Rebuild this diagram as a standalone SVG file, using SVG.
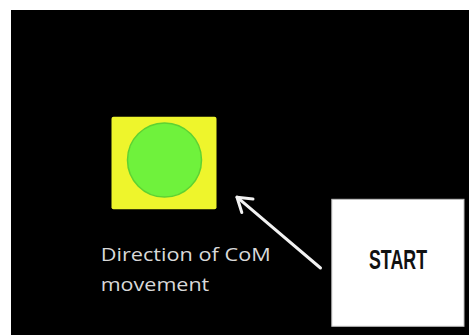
<svg xmlns="http://www.w3.org/2000/svg" width="469" height="335" viewBox="0 0 469 335">
  <defs>
    <style>
      .label { font-family: "Open Sans", "Liberation Sans", sans-serif; font-size: 18.5px; fill: #d9d9d9; }
      .start { font-family: "Liberation Sans", Arial, sans-serif; font-weight: bold; font-size: 28px; fill: #111111; }
      .conn { stroke: #f2f2f2; stroke-width: 3; fill: none; stroke-linecap: round; stroke-linejoin: round; }
    </style>
  </defs>
  <rect x="0" y="0" width="469" height="335" fill="#ffffff"/>
  <rect x="11" y="10" width="458" height="325" fill="#000000"/>

  <g id="target">
    <rect x="111.5" y="116.8" width="105" height="92.5" rx="2" fill="#eef52c"/>
    <circle cx="164.5" cy="160" r="37" fill="#6ff23c" stroke="#5ed232" stroke-width="1.5"/>
  </g>

  <g id="start-box">
    <rect x="331.8" y="199.3" width="132.2" height="127" fill="#ffffff" stroke="#bfbfbf" stroke-width="1"/>
    <text class="start" x="398" y="269.3" text-anchor="middle" textLength="58" lengthAdjust="spacingAndGlyphs">START</text>
  </g>

  <g id="caption">
    <text class="label" x="100.7" y="260.7" textLength="170" lengthAdjust="spacingAndGlyphs">Direction of CoM</text>
    <text class="label" x="100.7" y="290.5" textLength="108.6" lengthAdjust="spacingAndGlyphs">movement</text>
  </g>

  <g id="connectors">
    <path class="conn" d="M320.5 268 L237 197.2"/>
    <path class="conn" d="M253 199 L237 197.2 L241.8 212.5"/>
  </g>
</svg>
